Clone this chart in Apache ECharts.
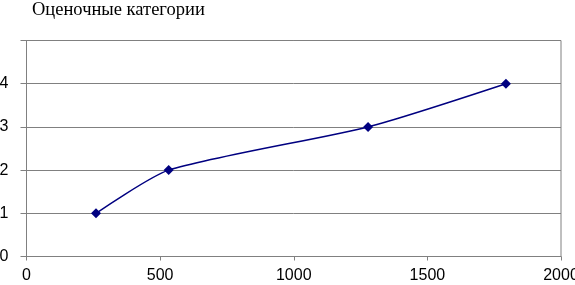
<!DOCTYPE html>
<html><head><meta charset="utf-8">
<script src="https://cdn.jsdelivr.net/npm/echarts@6/dist/echarts.min.js"></script>
<style>html,body{margin:0;padding:0;background:#fff}#c{width:575px;height:285px}</style>
</head><body><div id="c"></div>
<script>
const title = 'Оценочные категории';
const xValues = [260, 532, 1278, 1794];
const yValues = [1, 2, 3, 4];
const xTicks = [0, 500, 1000, 1500, 2000];
const yTicks = [0, 1, 2, 3, 4];

const chart = echarts.init(document.getElementById('c'), null, {renderer: 'canvas'});
chart.setOption({
  animation: false,
  backgroundColor: '#fff',
  title: {
    text: title, left: 32, top: 1, padding: 0,
    textStyle: {fontFamily: '"Liberation Serif", "Times New Roman", serif', fontSize: 18.5, fontWeight: 'normal', color: '#000'}
  },
  grid: {left: 26.5, right: 14, top: 40.5, bottom: 28.5, containLabel: false, outerBoundsMode: 'none',
    show: true, borderColor: '#808080', borderWidth: 1},
  xAxis: {
    type: 'value', min: 0, max: 2000, interval: 500,
    axisLine: {lineStyle: {color: '#808080'}},
    axisTick: {show: true, length: 4, lineStyle: {color: '#808080'}},
    splitLine: {show: false},
    axisLabel: {color: '#000', fontFamily: '"Liberation Sans", Arial, sans-serif', fontSize: 16, margin: 11,
      hideOverlap: false,
      formatter: v => xTicks.includes(v) ? String(v) : ''}
  },
  yAxis: {
    type: 'value', min: 0, max: 5, interval: 1,
    axisLine: {show: true, lineStyle: {color: '#808080'}},
    axisTick: {show: true, length: 6, lineStyle: {color: '#808080'}},
    splitLine: {show: true, lineStyle: {color: '#808080', width: 1}},
    axisLabel: {color: '#000', fontFamily: '"Liberation Sans", Arial, sans-serif', fontSize: 16, margin: 18,
      formatter: v => yTicks.includes(v) ? String(v) : ''}
  },
  series: [{
    type: 'line',
    data: xValues.map((x, i) => [x, yValues[i]]),
    smooth: 0.22,
    symbol: 'diamond', symbolSize: 10,
    itemStyle: {color: '#000080'},
    lineStyle: {color: '#000080', width: 1.5}
  }]
});
</script></body></html>
